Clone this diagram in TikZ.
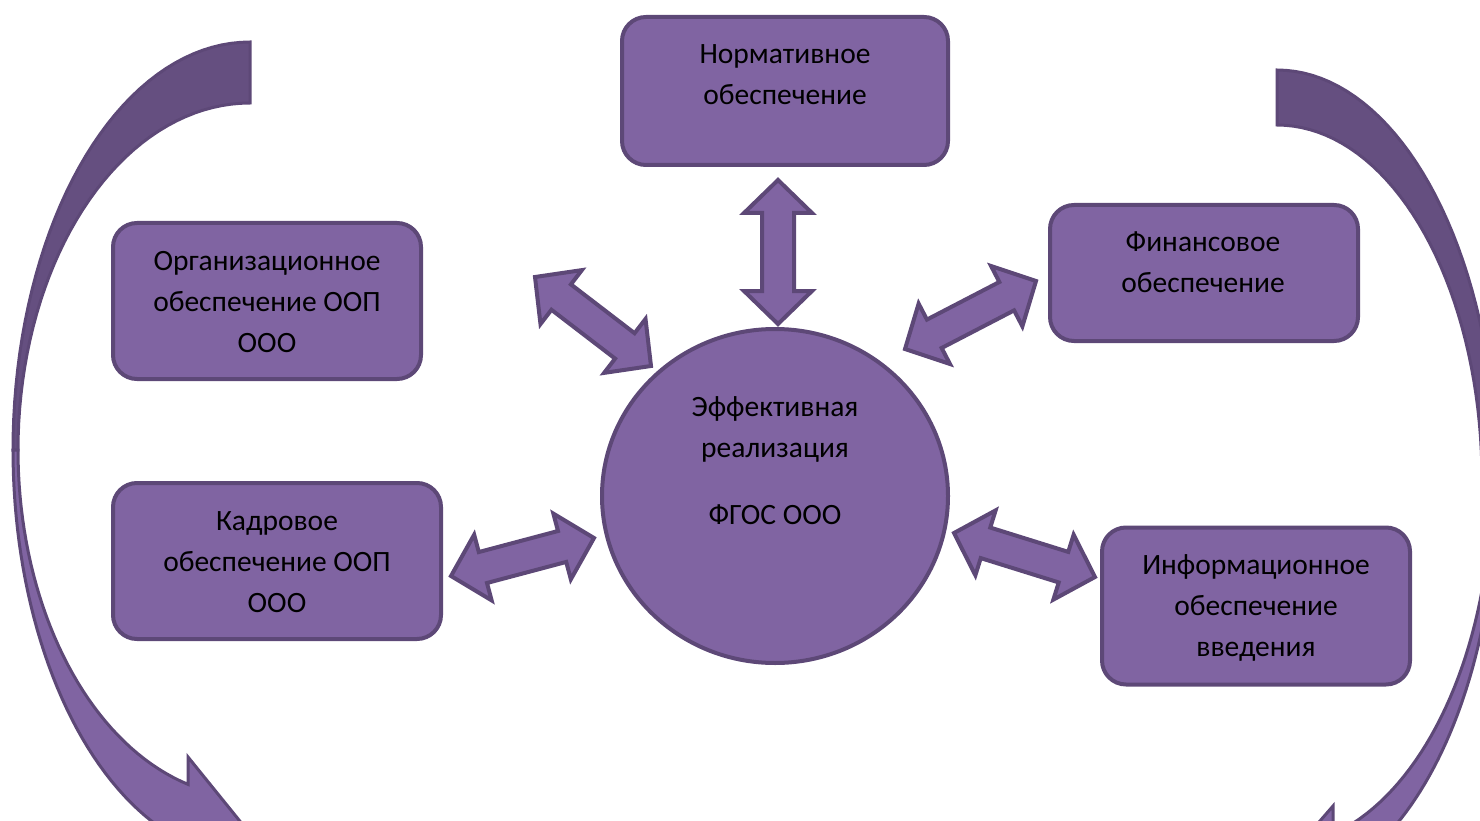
\documentclass[tikz,border=0pt]{standalone}
\usepackage{fontspec}
\setmainfont{Carlito}
\usetikzlibrary{calc,shapes.geometric}

\definecolor{violet}{HTML}{8064A2}
\definecolor{violetedge}{HTML}{5D4877}
\definecolor{violetback}{HTML}{654F80}

\tikzset{
  box/.style={draw=violetedge, fill=violet, line width=4pt, rounded corners=24pt, inner sep=0pt},
  lbl/.style={align=center, inner sep=0pt, font=\fontsize{29.5pt}{41pt}\selectfont},
  blockarrow/.style={draw=violetedge, fill=violet, line width=4pt},
  curveback/.style={draw=violetedge, fill=violetback, line width=3pt},
  curvefront/.style={draw=violetedge, fill=violet, line width=3pt},
}

% двойная стрелка между двумя остриями
\newcommand{\dblarrow}[2]{%
  \path let \p1=(#1), \p2=(#2) in
    \pgfextra{\pgfmathparse{atan2((\y2)-(\y1),(\x2)-(\x1))}\xdef\arrang{\pgfmathresult}%
              \pgfmathparse{veclen((\x2)-(\x1),(\y2)-(\y1))}\xdef\arrlen{\pgfmathresult}};
  \draw[blockarrow, shift={(#1)}, rotate=\arrang]
    (0,0) -- (33,34) -- (33,16) -- ({\arrlen-33},16) -- ({\arrlen-33},34) -- (\arrlen,0)
    -- ({\arrlen-33},-34) -- ({\arrlen-33},-16) -- (33,-16) -- (33,-34) -- cycle;
}

\begin{document}
\begin{tikzpicture}[x=1pt, y=-1pt]
        \useasboundingbox (0,0) rectangle (1480,821);
        \clip (0,0) rectangle (1480,821);
        %%%%%%%%%%%%%%%%%%%%%%%% Левая дуговая стрелка %%%%%%%%%%%%%%%%%%%%%%%%%%%
        \draw[curveback] plot[domain=270:180, samples=40] ({250+237*cos(\x)},{450+408*sin(\x)})
          -- plot[domain=180:270, samples=40] ({250+232*cos(\x)},{450+347*sin(\x)}) -- cycle; %задняя часть
        \draw[curvefront] plot[domain=180:107, samples=40] ({250+237*cos(\x)},{450+408*sin(\x)})
          -- (260,846) -- (188,757) -- (188,784)
          -- plot[domain=105.5:180, samples=40] ({250+232*cos(\x)},{450+347*sin(\x)}) -- cycle; %передняя часть
        %%%%%%%%%%%%%%%%%%%%%%%% Правая дуговая стрелка %%%%%%%%%%%%%%%%%%%%%%%%%%
        \draw[curveback] plot[domain=270:360, samples=40] ({1277+220*cos(\x)},{480+410*sin(\x)})
          -- plot[domain=360:270, samples=40] ({1277+205*cos(\x)},{480+355*sin(\x)}) -- cycle; %задняя часть
        \draw[curvefront] plot[domain=0:62, samples=40] ({1277+220*cos(\x)},{480+410*sin(\x)})
          -- (1286,860) -- (1333,806) -- (1333,834)
          -- plot[domain=74.9:0, samples=40] ({1277+215*cos(\x)},{480+367*sin(\x)}) -- cycle; %передняя часть
        %%%%%%%%%%%%%%%%%%%%%%%% Блоки %%%%%%%%%%%%%%%%%%%%%%%%%%%%%%%%%%%%%%%%%%%
        \node[box, minimum width=326pt, minimum height=148pt] (norm) at (785,91) {};
        \node[lbl] (normtxt) at (785,75) {Нормативное\\обеспечение};
        \node[box, minimum width=308pt, minimum height=136pt] (fin) at (1204,273) {};
        \node[lbl] (fintxt) at (1203,262) {Финансовое\\обеспечение};
        \node[box, minimum width=308pt, minimum height=156pt] (org) at (267,301) {};
        \node[lbl] (orgtxt) at (267,302) {Организационное\\обеспечение ООП\\ООО};
        \node[box, minimum width=328pt, minimum height=156pt] (kadr) at (277,561) {};
        \node[lbl] (kadrtxt) at (277,562) {Кадровое\\обеспечение ООП\\ООО};
        \node[box, minimum width=308pt, minimum height=157pt] (info) at (1256,606) {};
        \node[lbl] (infotxt) at (1256,608) {Информационное\\обеспечение\\введения};
        %%%%%%%%%%%%%%%%%%%%%%%% Круг в центре %%%%%%%%%%%%%%%%%%%%%%%%%%%%%%%%%%%
        \node[box, ellipse, minimum width=346pt, minimum height=334pt] (fgos) at (775,496) {};
        \node[lbl] (fgostxt) at (775,461) {Эффективная\\реализация\\[26pt]ФГОС ООО};
        %%%%%%%%%%%%%%%%%%%%%%%% Двойные стрелки %%%%%%%%%%%%%%%%%%%%%%%%%%%%%%%%%
        \coordinate (up1) at (778,180);   \coordinate (up2) at (778,324);
        \coordinate (ul1) at (535,277);   \coordinate (ul2) at (651,366);
        \coordinate (ur1) at (1036,281);  \coordinate (ur2) at (905,349);
        \coordinate (dl1) at (451,576);   \coordinate (dl2) at (594,538);
        \coordinate (dr1) at (954,533);   \coordinate (dr2) at (1095,577);
        \dblarrow{up1}{up2}
        \dblarrow{ul1}{ul2}
        \dblarrow{ur1}{ur2}
        \dblarrow{dl1}{dl2}
        \dblarrow{dr1}{dr2}
      \end{tikzpicture}
\end{document}
